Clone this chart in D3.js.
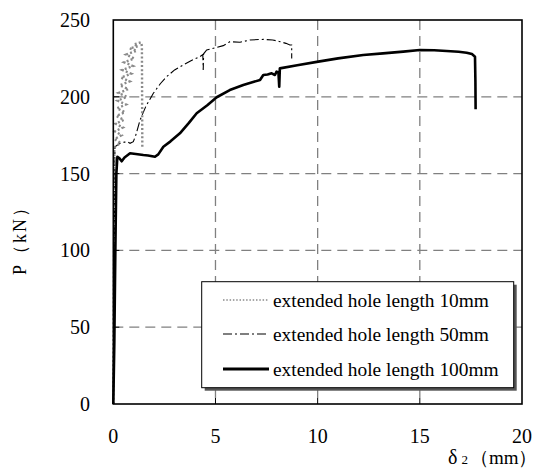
<!DOCTYPE html>
<html><head><meta charset="utf-8">
<script src="https://cdn.jsdelivr.net/npm/d3@7/dist/d3.min.js"></script>
<style>body{margin:0;background:#fff}svg{display:block}</style>
</head><body><svg id="c" width="542" height="471" font-family="'Liberation Serif', 'Times New Roman', serif"></svg>
<script>
const xTicks = [0, 5, 10, 15, 20];
const yTicks = [0, 50, 100, 150, 200, 250];
const seriesNames = ["extended hole length 10mm", "extended hole length 50mm", "extended hole length 100mm"];

const s10x = [0, 0.04, 0.05, 0.35, 0.06, 0.4, 0.08, 0.47, 0.11, 0.52, 0.15, 0.57, 0.18, 0.62, 0.21, 0.67, 0.26, 0.74, 0.32, 0.8, 0.38, 0.87, 0.44, 0.96, 0.53, 1.02, 0.63, 1.15, 0.8, 1.22, 1.0, 1.36, 1.4, 1.41, 1.42];
const s10y = [0, 100, 167, 170, 172.5, 175, 177.5, 180, 182.5, 185, 187.5, 190, 192.5, 195, 197.5, 200, 202.5, 205, 207.5, 210, 212.5, 215, 217.5, 220, 222.5, 225, 227.5, 230, 231.5, 233, 234, 235.5, 233, 200, 166.4];

const s50x = [0, 0.05, 0.08, 0.33, 0.55, 0.68, 0.82, 0.98, 1.1, 1.31, 1.6, 1.96, 2.3, 2.61, 3.0, 3.42, 3.8, 4.24, 4.38, 4.40, 4.42, 4.57, 5.0, 5.38, 5.71, 6.2, 6.69, 7.34, 7.8, 8.16, 8.45, 8.64, 8.73, 8.73];
const s50y = [0, 100, 167.5, 169.7, 170.5, 170.8, 169.7, 170.8, 175, 184.9, 194, 202.3, 208.5, 213.1, 217.5, 220.7, 223.5, 226.1, 227.5, 217.4, 228, 230.5, 232, 233.3, 235.9, 235.5, 237, 237.4, 237, 235.9, 234.8, 233.7, 233.7, 225];

const s100x = [0, 0.05, 0.1, 0.15, 0.2, 0.3, 0.41, 0.55, 0.82, 1.1, 1.47, 1.7, 2.04, 2.2, 2.45, 2.8, 3.26, 3.7, 4.08, 4.6, 5.06, 5.7, 6.36, 6.8, 7.18, 7.34, 7.55, 7.75, 7.91, 7.99, 8.08, 8.12, 8.15, 9.0, 10.03, 11.0, 12.23, 13.2, 14.19, 15.0, 15.7, 16.31, 16.9, 17.29, 17.55, 17.7, 17.72, 17.73];
const s100y = [0, 40, 100, 150, 161, 160, 158, 160.5, 163.2, 162.8, 162.1, 161.8, 161, 162.5, 167.5, 171, 176.2, 183, 189.3, 194.5, 199.7, 204.4, 207.7, 209.5, 210.9, 214.2, 214.5, 215.3, 214.2, 216.4, 216, 206.6, 218.5, 220.5, 222.9, 225, 227.2, 228.3, 229.4, 230.5, 230.3, 229.8, 229.3, 228.7, 227.8, 226.1, 210, 191.9];

const svg = d3.select("#c");
const FONT = "'Liberation Serif', 'Times New Roman', serif";
const L = 113.3, R = 522, T = 20, B = 404;
const x = d3.scaleLinear().domain([0, 20]).range([L, R]);
const y = d3.scaleLinear().domain([0, 250]).range([B, T]);

// grid
const g = svg.append("g");
g.selectAll(".gx").data(xTicks.slice(1, -1)).enter().append("line")
  .attr("x1", d => x(d)).attr("x2", d => x(d)).attr("y1", T).attr("y2", B)
  .attr("stroke", "#808080").attr("stroke-width", 1.3).attr("stroke-dasharray", "10,6");
g.selectAll(".gy").data(yTicks.slice(1, -1)).enter().append("line")
  .attr("y1", d => y(d)).attr("y2", d => y(d)).attr("x1", L).attr("x2", R)
  .attr("stroke", "#808080").attr("stroke-width", 1.3).attr("stroke-dasharray", "10,6");

// inward ticks
g.selectAll(".tx").data(xTicks.slice(1, -1)).enter().append("line")
  .attr("x1", d => x(d)).attr("x2", d => x(d)).attr("y1", B).attr("y2", B - 6)
  .attr("stroke", "#000").attr("stroke-width", 1);
g.selectAll(".ty").data(yTicks.slice(1, -1)).enter().append("line")
  .attr("y1", d => y(d)).attr("y2", d => y(d)).attr("x1", L).attr("x2", L + 6)
  .attr("stroke", "#000").attr("stroke-width", 1);

const line = d3.line().x(d => x(d[0])).y(d => y(d[1]));
const zip = (a, b) => a.map((v, i) => [v, b[i]]);

svg.append("path").datum(zip(s50x, s50y)).attr("d", line)
  .attr("fill", "none").attr("stroke", "#000").attr("stroke-width", 1.1)
  .attr("stroke-dasharray", "9,3,2,3");
svg.append("path").datum(zip(s10x, s10y)).attr("d", line)
  .attr("fill", "none").attr("stroke", "#8a8a8a").attr("stroke-width", 2.4)
  .attr("stroke-dasharray", "2,2.2");
svg.append("path").datum(zip(s100x, s100y)).attr("d", line)
  .attr("fill", "none").attr("stroke", "#000").attr("stroke-width", 2.6)
  .attr("stroke-linejoin", "round");

// frame
svg.append("rect").attr("x", L).attr("y", T).attr("width", R - L).attr("height", B - T)
  .attr("fill", "none").attr("stroke", "#000").attr("stroke-width", 1.6);

// tick labels
svg.selectAll(".xl").data(xTicks).enter().append("text")
  .attr("font-family", FONT)
  .attr("x", d => x(d)).attr("y", 443).attr("text-anchor", "middle")
  .attr("font-size", 20).text(d => d);
svg.selectAll(".yl").data(yTicks).enter().append("text")
  .attr("font-family", FONT)
  .attr("x", 90).attr("y", d => y(d) + 7).attr("text-anchor", "end")
  .attr("font-size", 20).text(d => d);

// axis titles
const xt = svg.append("text").attr("font-family", FONT).attr("x", 448).attr("y", 464).attr("font-size", 20);
xt.append("tspan").text("δ");
xt.append("tspan").attr("font-size", 13).attr("dx", 4).text("2");
xt.append("tspan").attr("font-size", 19).attr("dx", 2).text("（mm）");

svg.append("text").attr("font-family", FONT).attr("transform", "translate(26,236) rotate(-90)")
  .attr("text-anchor", "middle").attr("font-size", 18).attr("letter-spacing", 2)
  .text("P（kN）");

// legend
const lx = 201.7, ly = 281.7, lw = 312, lh = 106;
svg.append("rect").attr("x", lx + 3).attr("y", ly + 3).attr("width", lw).attr("height", lh).attr("fill", "#555");
svg.append("rect").attr("x", lx).attr("y", ly).attr("width", lw).attr("height", lh)
  .attr("fill", "#fff").attr("stroke", "#000").attr("stroke-width", 1);
const rowsY = [300, 334, 369];
const styles = [
  {c: "#8a8a8a", w: 1.4, d: "1.5,1.8"},
  {c: "#000", w: 1.1, d: "9,3,2,3"},
  {c: "#000", w: 3, d: null}
];
seriesNames.forEach((n, i) => {
  const l = svg.append("line").attr("x1", 223).attr("x2", 269).attr("y1", rowsY[i]).attr("y2", rowsY[i])
    .attr("stroke", styles[i].c).attr("stroke-width", styles[i].w);
  if (styles[i].d) l.attr("stroke-dasharray", styles[i].d);
  svg.append("text").attr("font-family", FONT).attr("x", 273).attr("y", rowsY[i] + 7).attr("font-size", 19.4).text(n);
});
</script></body></html>
